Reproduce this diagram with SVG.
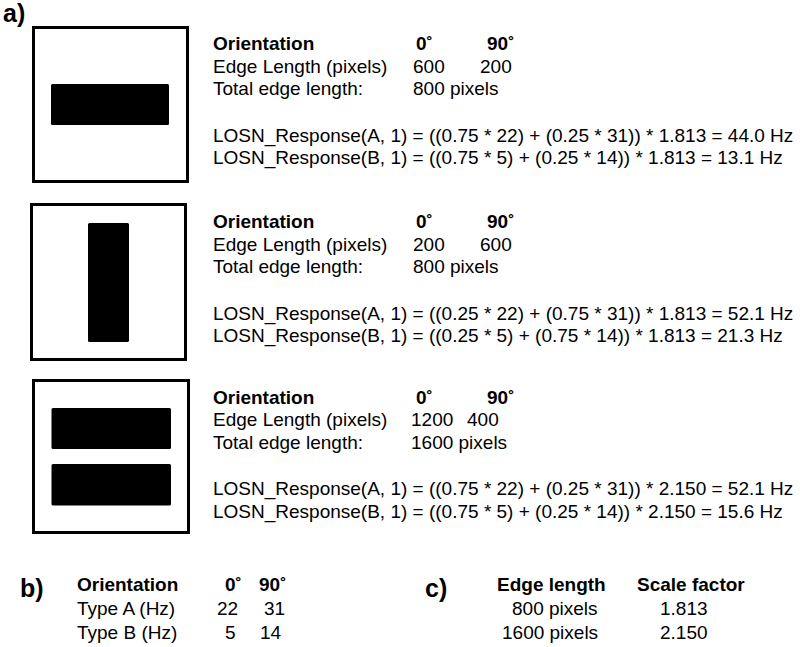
<svg xmlns="http://www.w3.org/2000/svg" width="800" height="647" viewBox="0 0 800 647">
<style>
text{font-family:"Liberation Sans",Arial,sans-serif;font-size:19px;fill:#000}
.b{font-weight:bold}
.lab{font-weight:bold;font-size:25px}
.frame{fill:#fff;stroke:#000;stroke-width:3}
.bar{fill:#000}
</style>
<rect width="800" height="647" fill="#fff"/>
<text class="lab" x="3" y="22">a)</text>

<g id="panel1">
<rect class="frame" x="33.5" y="27.5" width="154" height="154"/>
<rect class="bar" x="51" y="84" width="118" height="41" rx="1.5"/>
<text class="b" x="213" y="50">Orientation</text>
<text class="b" x="416" y="50">0˚</text>
<text class="b" x="487" y="50">90˚</text>
<text x="213" y="72.7">Edge Length (pixels)</text>
<text x="413" y="72.7">600</text>
<text x="480" y="72.7">200</text>
<text x="213" y="95.4">Total edge length:</text>
<text x="413" y="95.4">800 pixels</text>
<text x="213" y="141.7">LOSN_Response(A, 1) = ((0.75 * 22) + (0.25 * 31)) * 1.813 = 44.0 Hz</text>
<text x="213" y="164.4">LOSN_Response(B, 1) = ((0.75 * 5) + (0.25 * 14)) * 1.813 = 13.1 Hz</text>
</g>

<g id="panel2">
<rect class="frame" x="31.5" y="204.5" width="154" height="155"/>
<rect class="bar" x="88" y="223" width="41" height="119" rx="1.5"/>
<text class="b" x="213" y="228">Orientation</text>
<text class="b" x="416" y="228">0˚</text>
<text class="b" x="487" y="228">90˚</text>
<text x="213" y="250.7">Edge Length (pixels)</text>
<text x="413" y="250.7">200</text>
<text x="480" y="250.7">600</text>
<text x="213" y="273.4">Total edge length:</text>
<text x="413" y="273.4">800 pixels</text>
<text x="213" y="319.7">LOSN_Response(A, 1) = ((0.25 * 22) + (0.75 * 31)) * 1.813 = 52.1 Hz</text>
<text x="213" y="342.4">LOSN_Response(B, 1) = ((0.25 * 5) + (0.75 * 14)) * 1.813 = 21.3 Hz</text>
</g>

<g id="panel3">
<rect class="frame" x="33.5" y="380.5" width="155" height="152"/>
<rect class="bar" x="51.5" y="408" width="119.5" height="41" rx="1.5"/>
<rect class="bar" x="51.5" y="464" width="119.5" height="41.5" rx="1.5"/>
<text class="b" x="213" y="403.5">Orientation</text>
<text class="b" x="416" y="403.5">0˚</text>
<text class="b" x="487" y="403.5">90˚</text>
<text x="213" y="426.2">Edge Length (pixels)</text>
<text x="411" y="426.2">1200</text>
<text x="467" y="426.2">400</text>
<text x="213" y="448.9">Total edge length:</text>
<text x="411" y="448.9">1600 pixels</text>
<text x="213" y="495.2">LOSN_Response(A, 1) = ((0.75 * 22) + (0.25 * 31)) * 2.150 = 52.1 Hz</text>
<text x="213" y="517.9">LOSN_Response(B, 1) = ((0.75 * 5) + (0.25 * 14)) * 2.150 = 15.6 Hz</text>
</g>

<g id="tableB">
<text class="lab" x="20" y="597">b)</text>
<text class="b" x="77" y="591">Orientation</text>
<text class="b" x="225" y="591">0˚</text>
<text class="b" x="259" y="591">90˚</text>
<text x="77" y="615">Type A (Hz)</text>
<text x="217" y="615">22</text>
<text x="264" y="615">31</text>
<text x="77" y="639">Type B (Hz)</text>
<text x="225" y="639">5</text>
<text x="260" y="639">14</text>
</g>

<g id="tableC">
<text class="lab" x="425" y="597">c)</text>
<text class="b" x="497" y="591">Edge length</text>
<text class="b" x="637" y="591">Scale factor</text>
<text x="512" y="615">800 pixels</text>
<text x="660" y="615">1.813</text>
<text x="502" y="639">1600 pixels</text>
<text x="660" y="639">2.150</text>
</g>
</svg>
